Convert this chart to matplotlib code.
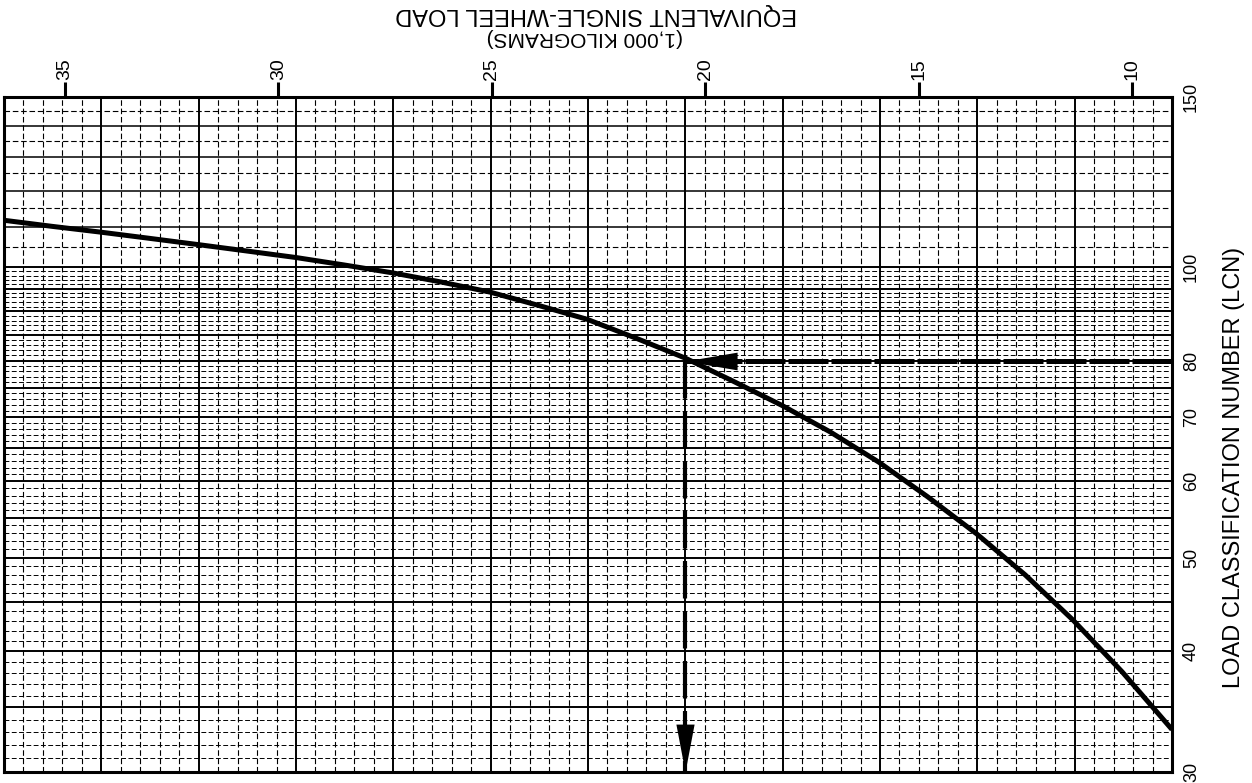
import matplotlib
matplotlib.use("Agg")
import matplotlib.pyplot as plt
from matplotlib.ticker import NullLocator

plt.rcParams['font.family'] = ['Liberation Sans', 'DejaVu Sans']

# ESWL (1,000 kg) vs LCN curve
eswl = [36.43, 35.31, 34.18, 33.03, 31.88, 30.74, 29.59, 28.46, 27.31, 26.19,
        25.04, 23.92, 22.77, 21.62, 20.47, 19.35, 18.20, 17.07, 15.93, 14.78,
        13.63, 12.50, 11.38, 10.23, 9.06]
lcn = [111.8, 110.2, 108.7, 107.1, 105.5, 103.9, 102.3, 100.5, 98.6, 96.5,
       94.2, 91.3, 88.3, 84.4, 80.5, 76.2, 71.9, 67.5, 62.8, 57.8,
       52.9, 48.0, 43.1, 38.1, 33.2]

# worked example: LCN 80 -> ESWL about 20.5
example_lcn = 80
example_eswl = 20.47

eswl_ticks = [35, 30, 25, 20, 15, 10]
lcn_ticks = [30, 40, 50, 60, 70, 80, 100, 150]
eswl_range = (36.43, 9.06)
lcn_range = (30, 150)

fig = plt.figure(figsize=(12.52, 7.83), dpi=100)
ax = fig.add_axes([4 / 1252, 1 - 772 / 783, 1168 / 1252, 675 / 783])

ax.set_yscale('log')
ax.set_xlim(*eswl_range)
ax.set_ylim(*lcn_range)

# graph paper: 12 major columns, 5 minor each
x0, x1 = eswl_range
for i in range(1, 60):
    xv = x0 + i / 60 * (x1 - x0)
    if i % 5 == 0:
        ax.axvline(xv, color='black', lw=1.4, zorder=1)
    else:
        ax.axvline(xv, color='black', lw=0.8, ls=(0, (5, 2.5)), zorder=1)

# horizontal rulings follow the LCN log scale
for v in range(31, 150):
    if v <= 100:
        if v % 5 == 0:
            ax.axhline(v, color='black', lw=1.4, zorder=1)
        else:
            ax.axhline(v, color='black', lw=0.7, ls=(0, (5, 2.5)), zorder=1)
    elif v % 10 == 0:
        ax.axhline(v, color='black', lw=1.1, zorder=1)
    elif v % 5 == 0:
        ax.axhline(v, color='black', lw=0.8, ls=(0, (5, 2.5)), zorder=1)

# the curve
ax.plot(eswl, lcn, color='black', lw=3.6, solid_capstyle='butt',
        solid_joinstyle='round', zorder=5)

# horizontal dashed arrow from LCN 80 to the curve
ax.plot([eswl_range[1], example_eswl], [example_lcn, example_lcn], color='black',
        lw=3.6, ls=(0, (8, 0.6)), dash_capstyle='butt', zorder=6)
ax.plot([example_eswl], [example_lcn], color='black', markeredgewidth=0, zorder=7,
        marker=[(0, 0), (1, 0.17), (1, -0.17), (0, 0)], markersize=75)

# vertical dashed arrow down to the ESWL axis
ax.plot([example_eswl, example_eswl], [example_lcn, lcn_range[0]], color='black',
        lw=3.0, ls=(0, (9, 3)), dash_capstyle='butt', zorder=6)
ax.plot([example_eswl], [lcn_range[0]], color='black', markeredgewidth=0, zorder=7,
        marker=[(0, 0), (0.19, 1), (-0.19, 1), (0, 0)], markersize=69, clip_on=False)

# axes / ticks
for s in ax.spines.values():
    s.set_linewidth(2.2)
    s.set_zorder(8)

ax.xaxis.tick_top()
ax.set_xticks(eswl_ticks)
ax.set_xticklabels([str(t) for t in eswl_ticks], fontsize=14, rotation=90)
ax.tick_params(axis='x', which='major', length=11, width=2.2, pad=1.5, direction='out')

ax.yaxis.tick_right()
ax.set_yticks(lcn_ticks)
ax.yaxis.set_minor_locator(NullLocator())
ax.set_yticklabels([str(t) for t in lcn_ticks], fontsize=13, rotation=90)
for lab in ax.get_yticklabels():
    lab.set_va('center')
ax.tick_params(axis='y', which='major', length=0, pad=8)

# axis titles (top one is printed upside down in the source)
fig.text(596 / 1252, 1 - 14 / 783, "EQUIVALENT SINGLE-WHEEL LOAD", fontsize=17,
         rotation=180, ha='center', va='center')
fig.text(585 / 1252, 1 - 38 / 783, "(1,000 KILOGRAMS)", fontsize=15,
         rotation=180, ha='center', va='center')
fig.text(1234 / 1252, 1 - 467 / 783, "LOAD CLASSIFICATION NUMBER (LCN)", fontsize=17,
         rotation=90, ha='center', va='center')

fig.savefig("out.png", dpi=100, facecolor='white')
